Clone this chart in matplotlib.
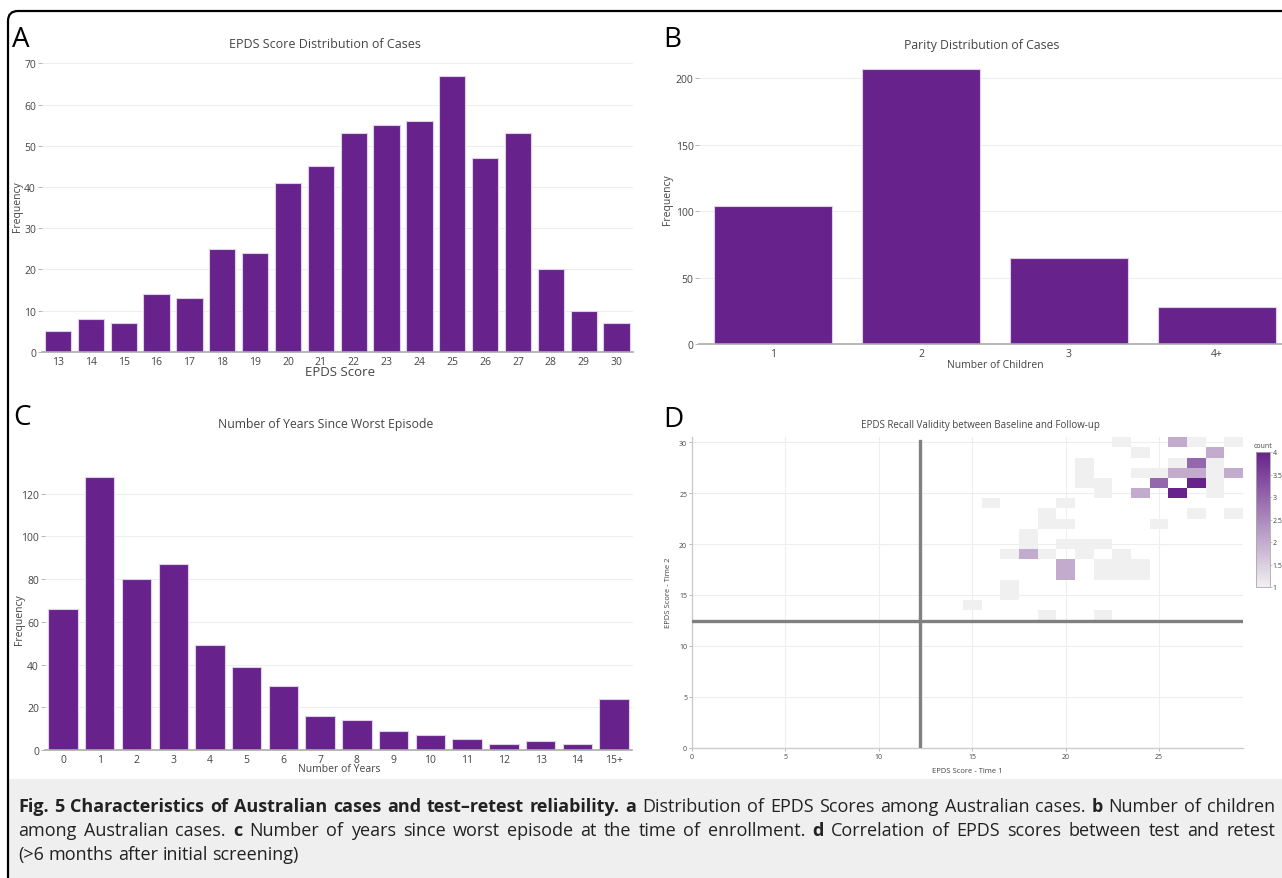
import numpy as np
import matplotlib.pyplot as plt
from matplotlib.colors import LinearSegmentedColormap
from matplotlib.patches import FancyBboxPatch, Rectangle
from matplotlib.transforms import IdentityTransform

plt.rcParams['font.family'] = ['Open Sans', 'DejaVu Sans']

# ---- data ----
epds_scores = [str(s) for s in range(13, 31)]
epds_freq = [5, 8, 7, 14, 13, 25, 24, 41, 45, 53, 55, 56, 67, 47, 53, 20, 10, 7]

parity_labels = ['1', '2', '3', '4+']
parity_freq = [104, 207, 65, 28]

years_labels = [str(i) for i in range(15)] + ['15+']
years_freq = [66, 128, 80, 87, 49, 39, 30, 16, 14, 9, 7, 5, 3, 4, 3, 24]

# test-retest 2d histogram: time 1 score, time 2 score, count
cell_x = [23, 27, 29, 24, 21, 26, 28, 21, 24, 25, 28, 21, 22, 28, 22, 28,
          16, 20, 19, 27, 29, 19, 20, 25, 18, 18, 20, 21, 22, 17, 19, 21,
          23, 22, 23, 24, 22, 23, 24, 17, 17, 15, 19, 22,
          26, 28, 26, 27, 29, 24, 18, 20, 20,
          27, 25,
          27, 26]
cell_y = [30, 30, 30, 29, 28, 28, 28, 27, 27, 27, 27, 26, 26, 26, 25, 25,
          24, 24, 23, 23, 23, 22, 22, 22, 21, 20, 20, 20, 20, 19, 19, 19,
          19, 18, 18, 18, 17, 17, 17, 16, 15, 14, 13, 13,
          30, 29, 27, 27, 27, 25, 19, 18, 17,
          28, 26,
          26, 25]
cell_count = [1] * 44 + [2] * 9 + [3] * 2 + [4] * 2
count_ticks = [1, 1.5, 2, 2.5, 3, 3.5, 4]

caption_lines = [
    [("Fig. 5 Characteristics of Australian cases and test\u2013retest reliability.", True), ("a", True),
     ("Distribution of EPDS Scores among Australian cases.", False), ("b", True), ("Number of children", False)],
    [("among Australian cases.", False), ("c", True),
     ("Number of years since worst episode at the time of enrollment.", False), ("d", True),
     ("Correlation of EPDS scores between test and retest", False)],
    [("(>6 months after initial screening)", False)],
]

# ---- style ----
PURPLE = '#68228b'
EDGE = '#ddd0e8'
GRID = '#eeeeee'
TXT = '#444444'

W, H = 1282, 879
fig = plt.figure(figsize=(W / 100, H / 100), dpi=100, facecolor='white')


def px_axes(l, t, r, b):
    return fig.add_axes([l / W, 1 - b / H, (r - l) / W, (b - t) / H])


def ftext(x, y, s, **kw):
    kw.setdefault('ha', 'center')
    kw.setdefault('va', 'center')
    return fig.text(x / W, 1 - y / H, s, **kw)


# frame and caption box
fig.patches.append(Rectangle((9, 0), W, H - 780, transform=IdentityTransform(),
                             facecolor='#efefef', edgecolor='none', zorder=0))
fig.patches.append(FancyBboxPatch((8, -20), W + 40, H - 12 + 20,
                                  boxstyle='round,pad=0,rounding_size=10',
                                  transform=IdentityTransform(), facecolor='none',
                                  edgecolor='black', linewidth=1.6, zorder=1))


def bar_panel(ax, labels, vals, ymax, yticks, xmax=None):
    x = np.arange(len(labels))
    ax.bar(x, vals, width=0.8, color=PURPLE, edgecolor=EDGE, linewidth=0.8, zorder=2)
    ax.set_xticks(x)
    ax.set_xticklabels(labels)
    ax.set_xlim(-0.5, len(labels) - 0.5 if xmax is None else xmax)
    ax.set_ylim(0, ymax)
    ax.set_yticks(yticks)
    ax.grid(axis='y', color=GRID, linewidth=0.8, zorder=0)
    ax.set_axisbelow(True)
    for s in ['top', 'right', 'left']:
        ax.spines[s].set_visible(False)
    ax.spines['bottom'].set_color('#aaaaaa')
    ax.spines['bottom'].set_linewidth(1.2)
    ax.tick_params(axis='x', length=0, pad=3, labelsize=7.5, labelcolor=TXT)
    ax.tick_params(axis='y', length=3, width=0.6, color='#aaaaaa', pad=1,
                   labelsize=7.5, labelcolor=TXT)
    ax.set_facecolor('white')


# A
axA = px_axes(41.5, 62.9, 633, 352.7)
bar_panel(axA, epds_scores, epds_freq, 70.35, range(0, 71, 10))
ftext(325, 44, 'EPDS Score Distribution of Cases', fontsize=9, color=TXT)
ftext(340, 372, 'EPDS Score', fontsize=9.5, color=TXT)
ftext(17, 207, 'Frequency', fontsize=7.5, color=TXT, rotation=90)
ftext(21, 40, 'A', fontsize=20)

# B
axB = px_axes(699, 56, 1282, 345)
bar_panel(axB, parity_labels, parity_freq, 217.35, range(0, 201, 50), xmax=3.44)
ftext(982, 45, 'Parity Distribution of Cases', fontsize=8.8, color=TXT)
ftext(995, 366, 'Number of Children', fontsize=7.5, color=TXT)
ftext(668, 200, 'Frequency', fontsize=7.5, color=TXT, rotation=90)
ftext(672, 40, 'B', fontsize=20)

# C
axC = px_axes(44.6, 464, 632.5, 751)
bar_panel(axC, years_labels, years_freq, 134.4, range(0, 121, 20))
ftext(326, 425, 'Number of Years Since Worst Episode', fontsize=8.8, color=TXT)
ftext(339, 770, 'Number of Years', fontsize=7.5, color=TXT)
ftext(20, 620, 'Frequency', fontsize=7.5, color=TXT, rotation=90)
ftext(22, 418, 'C', fontsize=20)

# D
axD = px_axes(692, 438.2, 1243, 748.7)
grid = np.full((31, 30), np.nan)
for cx, cy, c in zip(cell_x, cell_y, cell_count):
    grid[cy, cx] = c
cmap = LinearSegmentedColormap.from_list('cnt', ['#f0f0f0', PURPLE])
mesh = axD.pcolormesh(np.arange(-0.5, 30, 1), np.arange(-0.5, 31, 1), grid,
                      cmap=cmap, vmin=1, vmax=4, zorder=2)
axD.plot([12.2, 12.2], [0, 30.1], color='#808080', linewidth=2.4, zorder=3)
axD.plot([0, 29.4], [12.4, 12.4], color='#808080', linewidth=2.4, zorder=3)
axD.set_xlim(0, 29.5)
axD.set_ylim(0, 30.5)
axD.set_xticks(range(0, 26, 5))
axD.set_yticks(range(0, 31, 5))
axD.grid(color=GRID, linewidth=0.8, zorder=0)
axD.set_axisbelow(True)
for s in ['top', 'right']:
    axD.spines[s].set_visible(False)
for s in ['left', 'bottom']:
    axD.spines[s].set_color('#cccccc')
    axD.spines[s].set_linewidth(1.0)
axD.tick_params(axis='both', length=2.5, width=0.6, color='#aaaaaa', pad=1,
                labelsize=5, labelcolor=TXT)
ftext(980, 426, 'EPDS Recall Validity between Baseline and Follow-up', fontsize=7, color=TXT)
ftext(967, 772, 'EPDS Score - Time 1', fontsize=5.5, color=TXT)
ftext(669, 593, 'EPDS Score - Time 2', fontsize=5.5, color=TXT, rotation=90)
ftext(673, 420, 'D', fontsize=20)

cax = px_axes(1256, 453, 1270, 588)
cb = fig.colorbar(mesh, cax=cax, ticks=count_ticks)
cb.ax.set_yticklabels([f'{t:g}' for t in count_ticks])
cb.outline.set_edgecolor('#aaaaaa')
cb.outline.set_linewidth(0.6)
cax.tick_params(length=1.5, width=0.5, color='#aaaaaa', labelsize=5, labelcolor=TXT, pad=0.5)
ftext(1263, 447, 'count', fontsize=5, color=TXT)

# caption, justified on the first two lines
CAP_FS = 13
renderer = fig.canvas.get_renderer()
baselines = [812, 836, 860]
x0, x1 = 18, 1275
for li, (segs, yb) in enumerate(zip(caption_lines, baselines)):
    words = []
    for s, bold in segs:
        words += [(w, bold) for w in s.split(' ')]
    objs = [ftext(0, yb, w, fontsize=CAP_FS, ha='left', va='baseline',
                  fontweight='bold' if b else 'normal', color='#222222') for w, b in words]
    widths = [t.get_window_extent(renderer).width for t in objs]
    if li < len(caption_lines) - 1:
        gap = (x1 - x0 - sum(widths)) / (len(objs) - 1)
    else:
        gap = CAP_FS * 100 / 72 * 0.26
    x = x0
    for t, w in zip(objs, widths):
        t.set_x(x / W)
        x += w + gap

fig.savefig('out.png', dpi=100)
